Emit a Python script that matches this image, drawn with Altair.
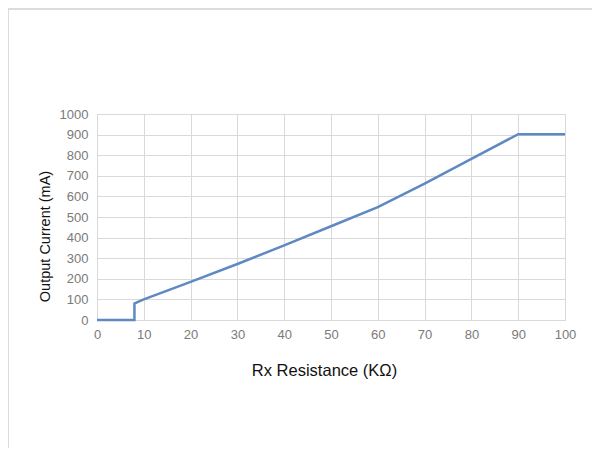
import altair as alt
import pandas as pd

resistance = [0, 8, 8, 9, 10, 20, 30, 40, 50, 60, 70, 80, 90, 100]
current = [0, 0, 80, 90, 100, 185, 272, 362, 455, 548, 662, 782, 902, 902]
order = list(range(len(resistance)))

df = pd.DataFrame({"r": resistance, "i": current, "o": order})

line = alt.Chart(df).mark_line(color="#5f89c2", strokeWidth=2.5).encode(
    x=alt.X("r:Q", scale=alt.Scale(domain=[0, 100], nice=False),
            axis=alt.Axis(values=list(range(0, 101, 10)), title="Rx Resistance (KΩ)",
                          titleFontSize=16.5, titleFont="Liberation Sans", titleFontWeight="normal",
                          titleColor="#111111", titleX=227, titleY=42, titleBaseline="top",
                          labelFontSize=13, labelColor="#7a7a7a", labelFont="Liberation Sans",
                          labelPadding=8, labelFlush=False, ticks=False, domain=False,
                          gridColor="#d9d9d9")),
    y=alt.Y("i:Q", scale=alt.Scale(domain=[0, 1000], nice=False),
            axis=alt.Axis(values=list(range(0, 1001, 100)), title="Output Current (mA)", format="d",
                          titleFontSize=14.5, titleFont="Liberation Sans", titleFontWeight="normal",
                          titleColor="#111111", titleX=-45, titleY=122,
                          labelFontSize=13, labelColor="#7a7a7a", labelFont="Liberation Sans",
                          labelPadding=9, ticks=False, domain=False,
                          gridColor="#d9d9d9")),
    order="o:Q",
)

frame_top = alt.Chart(df).mark_rule(color="#dcdcdc", strokeWidth=2).encode(
    x=alt.value(-89), x2=alt.value(530), y=alt.value(-105)
)
frame_left = alt.Chart(df).mark_rule(color="#dcdcdc", strokeWidth=2).encode(
    x=alt.value(-89), y=alt.value(-105), y2=alt.value(340)
)

chart = alt.layer(line, frame_top, frame_left).properties(
    width=468, height=206,
    autosize=alt.AutoSizeParams(type="none"),
    padding={"left": 89, "top": 106, "right": 27, "bottom": 128},
).configure_view(stroke=None).configure(background="white")

chart.save("out.html", embed_options={"renderer": "svg", "actions": False})
